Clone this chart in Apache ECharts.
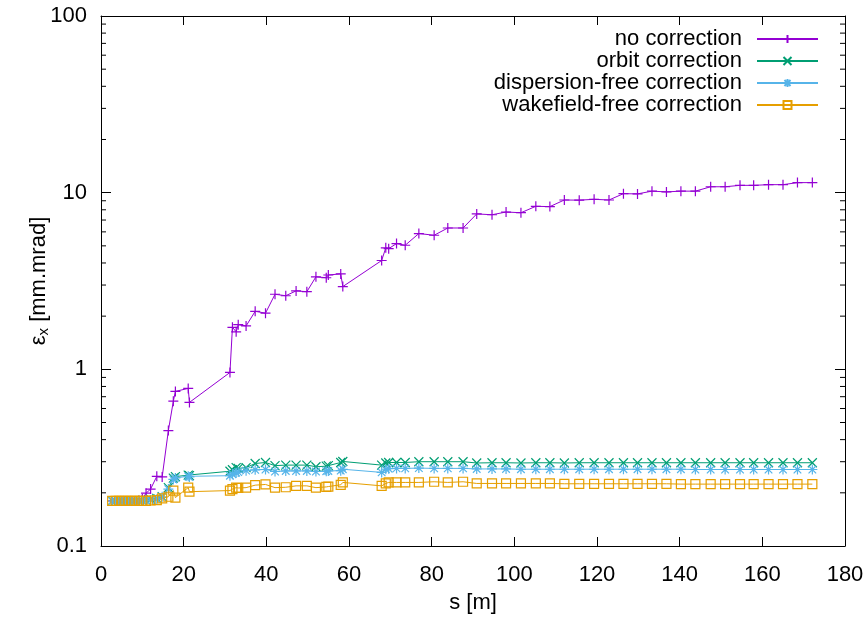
<!DOCTYPE html>
<html>
<head>
<meta charset="utf-8">
<script src="https://cdn.jsdelivr.net/npm/echarts@6/dist/echarts.min.js"></script>
<style>html,body{margin:0;padding:0;background:#fff}#c{width:868px;height:619px}</style>
</head>
<body>
<div id="c"></div>
<script>
// positions along the beamline s [m]
var s = [2.7, 3.5, 4.3, 5.1, 5.9, 6.7, 7.5, 8.3, 9.2, 10.0,
  10.9, 12.0, 13.5, 14.8, 16.3, 17.5, 18.0, 21.1, 21.4,
  31.2, 31.8, 32.7, 33.2, 35.1, 37.3, 39.8, 42.1, 44.7, 47.2, 49.8, 52.0, 54.5, 55.0, 58.0, 58.5,
  67.9, 68.9, 69.6, 71.5, 73.6, 76.9, 80.6, 83.9, 87.6,
  90.9, 94.6, 98.0, 101.6, 105.2, 108.6, 112.1, 115.7, 119.3,
  122.9, 126.4, 129.8, 133.3, 136.8, 140.3, 143.8, 147.5, 151.0, 154.6, 157.9, 161.5, 165.0, 168.5, 172.1];

var noCorrection = [0.18, 0.18, 0.18, 0.18, 0.18, 0.18, 0.18, 0.18, 0.181, 0.185,
  0.199, 0.21, 0.248, 0.246, 0.45, 0.66, 0.75, 0.78, 0.65,
  0.96, 1.73, 1.63, 1.79, 1.76, 2.13, 2.08, 2.66, 2.61, 2.78, 2.75, 3.34, 3.30, 3.42, 3.47, 2.94,
  4.13, 4.87, 4.82, 5.15, 5.04, 5.87, 5.74, 6.31, 6.31,
  7.58, 7.5, 7.77, 7.7, 8.37, 8.34, 9.09, 9.07, 9.17,
  9.09, 9.87, 9.84, 10.2, 10.1, 10.2, 10.2, 10.8, 10.8, 11.0, 11.0, 11.1, 11.1, 11.4, 11.4];

var orbitCorrection = [0.18, 0.18, 0.18, 0.18, 0.18, 0.18, 0.18, 0.18, 0.18, 0.181,
  0.182, 0.184, 0.186, 0.19, 0.214, 0.242, 0.247, 0.252, 0.25,
  0.265, 0.27, 0.278, 0.275, 0.278, 0.293, 0.297, 0.285, 0.287, 0.287, 0.287, 0.281, 0.283, 0.285, 0.297, 0.301,
  0.287, 0.295, 0.297, 0.297, 0.297, 0.3, 0.3, 0.3, 0.3,
  0.295, 0.296, 0.296, 0.295, 0.296, 0.296, 0.295, 0.296, 0.296,
  0.296, 0.296, 0.296, 0.296, 0.296, 0.296, 0.296, 0.296, 0.296, 0.296, 0.296, 0.296, 0.296, 0.296, 0.296];

var dispersionFree = [0.18, 0.18, 0.18, 0.18, 0.18, 0.18, 0.18, 0.18, 0.18, 0.18,
  0.181, 0.182, 0.184, 0.19, 0.21, 0.238, 0.243, 0.248, 0.246,
  0.25, 0.255, 0.26, 0.262, 0.267, 0.27, 0.271, 0.264, 0.266, 0.266, 0.266, 0.264, 0.265, 0.266, 0.267, 0.272,
  0.261, 0.272, 0.274, 0.275, 0.275, 0.276, 0.275, 0.275, 0.275,
  0.273, 0.273, 0.273, 0.272, 0.272, 0.272, 0.272, 0.272, 0.272,
  0.272, 0.272, 0.272, 0.272, 0.272, 0.272, 0.271, 0.271, 0.271, 0.271, 0.271, 0.271, 0.271, 0.271, 0.271];

var wakefieldFree = [0.18, 0.18, 0.18, 0.18, 0.18, 0.18, 0.18, 0.18, 0.18, 0.18,
  0.18, 0.181, 0.182, 0.186, 0.19, 0.206, 0.188, 0.214, 0.203,
  0.206, 0.21, 0.214, 0.213, 0.214, 0.221, 0.223, 0.214, 0.215, 0.219, 0.219, 0.214, 0.216, 0.217, 0.222, 0.229,
  0.219, 0.226, 0.229, 0.229, 0.229, 0.229, 0.231, 0.229, 0.231,
  0.226, 0.226, 0.226, 0.226, 0.226, 0.226, 0.225, 0.225, 0.225,
  0.225, 0.225, 0.225, 0.225, 0.225, 0.224, 0.224, 0.224, 0.224, 0.224, 0.224, 0.224, 0.224, 0.224, 0.224];

var seriesNames = ['no correction', 'orbit correction', 'dispersion-free correction', 'wakefield-free correction'];
var seriesColors = ['#9400d3', '#009e73', '#56b4e9', '#e69f00'];
var xTicks = [0, 20, 40, 60, 80, 100, 120, 140, 160, 180];
var yMinorTicks = [0.2, 0.3, 0.4, 0.5, 0.6, 0.7, 0.8, 0.9, 2, 3, 4, 5, 6, 7, 8, 9, 20, 30, 40, 50, 60, 70, 80, 90];

var FONT = 'Liberation Sans';
var FS = 22;
function pairs(vals) { return s.map(function (x, i) { return [x, vals[i]]; }); }

var symbols = [
  'path://M5,0L5,10M0,5L10,5',
  'path://M0,0L10,10M0,10L10,0',
  'path://M5,0L5,10M0,5L10,5M1.2,1.2L8.8,8.8M1.2,8.8L8.8,1.2',
  'path://M0,0L10,0L10,10L0,10Z'
];
var sizes = [10, 9, 10, 9];
var allVals = [noCorrection, orbitCorrection, dispersionFree, wakefieldFree];

var series = seriesNames.map(function (n, i) {
  return {
    name: n, type: 'line', data: pairs(allVals[i]),
    symbol: symbols[i], symbolSize: sizes[i], showAllSymbol: true,
    lineStyle: { color: seriesColors[i], width: 1 },
    itemStyle: { color: 'rgba(255,255,255,0)', borderColor: seriesColors[i], borderWidth: 1.2 },
    emphasis: { disabled: true }, animation: false, z: 3
  };
});
series.push({
  type: 'custom', silent: true, animation: false, z: 4,
  data: yMinorTicks.map(function (v) { return [v]; }),
  renderItem: function (params, api) {
    var v = api.value(0);
    var l = api.coord([0, v]); var r = api.coord([180, v]);
    return { type: 'group', children: [
      { type: 'line', shape: { x1: l[0], y1: l[1], x2: l[0] + 5, y2: l[1] }, style: { stroke: '#000', lineWidth: 1 } },
      { type: 'line', shape: { x1: r[0], y1: r[1], x2: r[0] - 5, y2: r[1] }, style: { stroke: '#000', lineWidth: 1 } }
    ] };
  },
  encode: { y: 0 }
});

var axisLine = { show: true, onZero: false, lineStyle: { color: '#000', width: 1 } };
var chart = echarts.init(document.getElementById('c'), null, { renderer: 'canvas' });
chart.setOption({
  backgroundColor: '#fff',
  textStyle: { fontFamily: FONT },
  grid: { left: 101, right: 23, top: 16, bottom: 72, containLabel: false },
  legend: {
    data: seriesNames, orient: 'vertical', right: 44, top: 23, align: 'right',
    itemWidth: 61, itemHeight: 10, itemGap: 0,
    textStyle: { fontFamily: FONT, fontSize: FS, color: '#000', lineHeight: 21, padding: [0, 10, 0, 0] }
  },
  xAxis: [{
    type: 'value', min: 0, max: 180, interval: 20, position: 'bottom',
    name: 's [m]', nameLocation: 'middle', nameGap: 46, nameMoveOverlap: false,
    nameTextStyle: { fontFamily: FONT, fontSize: FS, color: '#000' },
    axisLine: axisLine, axisTick: { inside: true, length: 9, lineStyle: { color: '#000' } },
    axisLabel: { fontFamily: FONT, fontSize: FS, color: '#000', margin: 18 },
    splitLine: { show: false }
  }, {
    type: 'value', min: 0, max: 180, interval: 20, position: 'top',
    axisLine: axisLine, axisTick: { inside: true, length: 9, lineStyle: { color: '#000' } },
    axisLabel: { show: false }, splitLine: { show: false }
  }],
  yAxis: [{
    type: 'log', logBase: 10, min: 0.1, max: 100, position: 'left',
    name: '{a|ε}{b|x}{a| [mm.mrad]}', nameLocation: 'middle', nameGap: 50, nameRotate: 90,
    nameMoveOverlap: false,
    nameTextStyle: { color: '#000', rich: {
      a: { fontFamily: FONT, fontSize: FS, color: '#000' },
      b: { fontFamily: FONT, fontSize: 15, color: '#000', padding: [9, 0, 0, 0], verticalAlign: 'bottom' }
    } },
    axisLine: axisLine, axisTick: { inside: true, length: 10, lineStyle: { color: '#000' } },
    axisLabel: { fontFamily: FONT, fontSize: FS, color: '#000', margin: 14,
      formatter: function (v) { return String(+v.toPrecision(3)); } },
    splitLine: { show: false }
  }, {
    type: 'log', logBase: 10, min: 0.1, max: 100, position: 'right',
    axisLine: axisLine, axisTick: { inside: true, length: 10, lineStyle: { color: '#000' } },
    axisLabel: { show: false }, splitLine: { show: false }
  }],
  series: series
});
</script>
</body>
</html>
